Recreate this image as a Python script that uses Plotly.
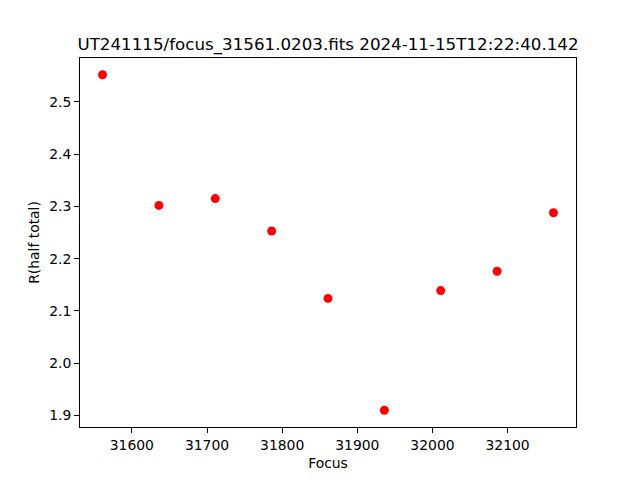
import plotly.graph_objects as go

focus = [31561, 31636, 31711, 31786, 31861, 31936, 32011, 32086, 32161]
r_half = [2.552, 2.302, 2.315, 2.253, 2.124, 1.910, 2.139, 2.176, 2.288]
x_ticks = [31600, 31700, 31800, 31900, 32000, 32100]
y_ticks = [1.9, 2.0, 2.1, 2.2, 2.3, 2.4, 2.5]
title = "UT241115/focus_31561.0203.fits 2024-11-15T12:22:40.142"

def pad(vals, frac=0.05):
    lo, hi = min(vals), max(vals)
    s = hi - lo
    return [lo - frac * s, hi + frac * s]

font = "DejaVu Sans"
fig = go.Figure(go.Scatter(
    x=focus, y=r_half, mode="markers",
    marker=dict(color="red", size=9, line=dict(width=0)),
))
axis_common = dict(
    showline=True, linecolor="black", linewidth=1, mirror=True,
    ticks="outside", ticklen=5, tickwidth=1, tickcolor="black",
    showgrid=False, zeroline=False,
    tickfont=dict(family=font, size=13.9, color="black"),
)
fig.update_layout(
    width=640, height=480,
    paper_bgcolor="white", plot_bgcolor="white",
    margin=dict(l=80, r=64, t=58, b=53),
    showlegend=False,
    title=dict(text=title, x=0.5, xref="paper", xanchor="center",
               y=(480 - 44) / 480, yref="container", yanchor="middle",
               font=dict(family=font, size=16.7, color="black")),
    xaxis=dict(range=pad(focus), tickvals=x_ticks,
               ticktext=[str(v) for v in x_ticks],
               title=dict(text="Focus", standoff=6,
                          font=dict(family=font, size=13.9, color="black")),
               **axis_common),
    yaxis=dict(range=pad(r_half), tickvals=y_ticks,
               ticktext=[f"{v:.1f}" for v in y_ticks],
               title=dict(text="R(half total)", standoff=6,
                          font=dict(family=font, size=13.9, color="black")),
               **axis_common),
)
fig.write_html("out.html",
               config={"displayModeBar": False},
               post_script="document.body.style.margin='0';document.body.style.padding='0';")
